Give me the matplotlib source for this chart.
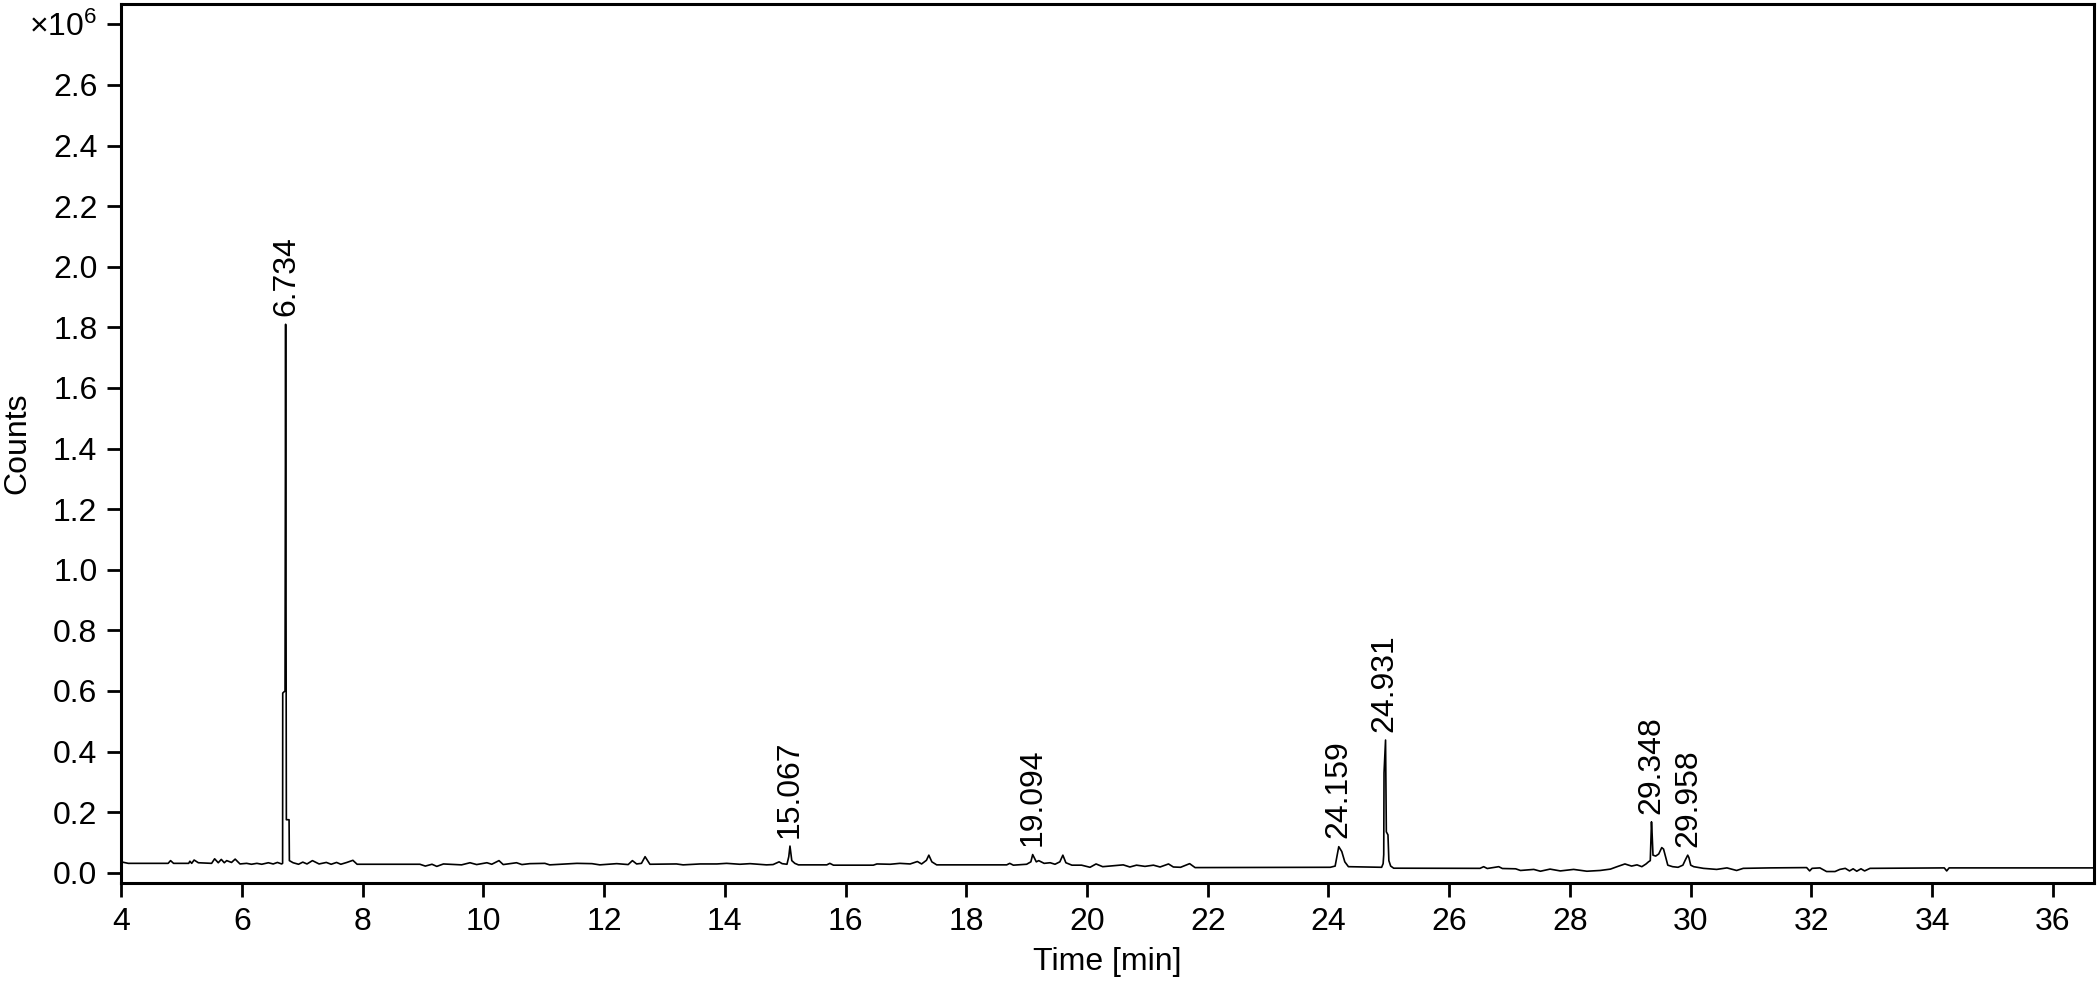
import matplotlib
matplotlib.use("Agg")
import matplotlib.pyplot as plt
import numpy as np

plt.rcParams['font.family'] = ['Liberation Sans', 'DejaVu Sans']
plt.rcParams['mathtext.fontset'] = 'custom'
plt.rcParams['mathtext.rm'] = 'Liberation Sans'

# retention time [min] and counts [x10^6]
rt = [4.00, 4.12, 4.78, 4.82, 4.87, 5.12, 5.14, 5.17, 5.21, 5.28, 5.50, 5.55, 5.61, 5.66,
      5.71, 5.75, 5.83, 5.89, 5.97, 6.08, 6.16, 6.25, 6.33, 6.44, 6.52, 6.59, 6.66,
      6.676, 6.678, 6.716, 6.726, 6.738, 6.783, 6.788,
      6.85, 6.94, 7.01, 7.08, 7.17, 7.28, 7.40, 7.48, 7.57, 7.64, 7.74, 7.84, 7.91,
      8.95, 9.04, 9.15, 9.23, 9.34,
      9.45, 9.64, 9.78, 9.89, 10.06, 10.14, 10.26, 10.33, 10.55, 10.64, 10.77, 11.02,
      11.10, 11.55, 11.80, 11.93, 12.21, 12.40, 12.47, 12.54, 12.62, 12.68, 12.76,
      13.20, 13.31, 13.59, 13.87, 14.03, 14.25, 14.42, 14.69, 14.80, 14.90, 14.95,
      15.03, 15.06, 15.08, 15.11, 15.16, 15.22, 15.69, 15.74, 15.80, 16.46, 16.52,
      16.74, 16.90, 17.07, 17.19, 17.26, 17.34, 17.38, 17.43, 17.51, 18.67, 18.72,
      18.78, 19.00, 19.07, 19.10, 19.16, 19.20, 19.23, 19.29, 19.39, 19.47, 19.55,
      19.60, 19.65, 19.75, 19.91, 20.05, 20.15, 20.26,
      20.38, 20.60, 20.71, 20.82, 20.96, 21.10, 21.21, 21.35, 21.43, 21.55, 21.70,
      21.79, 24.03, 24.11, 24.15, 24.17, 24.22, 24.27, 24.33, 24.80, 24.88,
      24.905, 24.915, 24.920, 24.945, 24.958, 24.985, 25.00, 25.03, 25.08,
      26.51, 26.57, 26.63, 26.82, 26.88, 27.10, 27.18, 27.40, 27.51, 27.67, 27.84,
      28.06, 28.28, 28.50, 28.67, 28.78, 28.91, 29.02, 29.11, 29.19, 29.26, 29.30,
      29.33, 29.335, 29.35, 29.36, 29.375, 29.42, 29.47, 29.52, 29.55, 29.58, 29.62,
      29.70, 29.79, 29.87, 29.91, 29.95, 29.97, 30.00, 30.05, 30.21, 30.43, 30.60,
      30.76, 30.87, 31.31,
      31.92, 31.97, 32.01, 32.14, 32.25, 32.39, 32.47, 32.56, 32.63, 32.69, 32.75,
      32.82, 32.88, 32.97, 34.20, 34.24, 34.28, 36.67]
counts = [0.036, 0.031, 0.031, 0.040, 0.031, 0.031, 0.038, 0.031, 0.042, 0.033, 0.031, 0.046, 0.033, 0.044,
          0.033, 0.040, 0.034, 0.045, 0.029, 0.031, 0.028, 0.031, 0.028, 0.033, 0.029, 0.034, 0.029,
          0.031, 0.593, 0.600, 1.810, 0.175, 0.175, 0.040,
          0.033, 0.028, 0.035, 0.029, 0.040, 0.029, 0.034, 0.028, 0.034, 0.028, 0.034, 0.041, 0.028,
          0.028, 0.022, 0.028, 0.021, 0.029,
          0.028, 0.026, 0.033, 0.027, 0.033, 0.028, 0.040, 0.027, 0.033, 0.027, 0.030, 0.031,
          0.026, 0.031, 0.030, 0.026, 0.030, 0.027, 0.040, 0.029, 0.031, 0.053, 0.028,
          0.029, 0.026, 0.029, 0.029, 0.031, 0.028, 0.030, 0.026, 0.027, 0.036, 0.030,
          0.028, 0.053, 0.088, 0.040, 0.031, 0.026, 0.026, 0.031, 0.025, 0.025, 0.029,
          0.028, 0.031, 0.029, 0.037, 0.029, 0.041, 0.058, 0.036, 0.026, 0.026, 0.031,
          0.025, 0.028, 0.036, 0.060, 0.036, 0.040, 0.037, 0.031, 0.033, 0.028, 0.036,
          0.058, 0.033, 0.025, 0.025, 0.018, 0.029, 0.020,
          0.022, 0.026, 0.019, 0.025, 0.021, 0.025, 0.019, 0.029, 0.019, 0.018, 0.030,
          0.017, 0.018, 0.022, 0.064, 0.086, 0.070, 0.036, 0.020, 0.018, 0.018,
          0.030, 0.060, 0.330, 0.438, 0.135, 0.125, 0.040, 0.022, 0.015,
          0.0145, 0.020, 0.014, 0.020, 0.014, 0.013, 0.0075, 0.011, 0.005, 0.012, 0.006,
          0.011, 0.005, 0.0075, 0.012, 0.020, 0.029, 0.022, 0.026, 0.020, 0.029, 0.036,
          0.040, 0.070, 0.168, 0.130, 0.058, 0.055, 0.062, 0.083, 0.078, 0.055, 0.025,
          0.020, 0.018, 0.025, 0.042, 0.058, 0.050, 0.025, 0.020, 0.0145, 0.011, 0.016,
          0.0075, 0.0145, 0.016,
          0.017, 0.006, 0.0145, 0.016, 0.004, 0.004, 0.011, 0.0145, 0.006, 0.013, 0.005,
          0.013, 0.006, 0.0145, 0.016, 0.006, 0.016, 0.016]

peak_labels = ["6.734", "15.067", "19.094", "24.159", "24.931", "29.348", "29.958"]

y_ticks = [0.0, 0.2, 0.4, 0.6, 0.8, 1.0, 1.2, 1.4, 1.6, 1.8, 2.0, 2.2, 2.4, 2.6, 2.8]
x_ticks = list(range(4, 37, 2))

rt = np.array(rt)
counts = np.array(counts)

fig = plt.figure(figsize=(20.98, 9.85), dpi=100)
ax = fig.add_axes([0.0577, 0.1032, 0.9404, 0.8927])

ax.plot(rt, counts, color='black', lw=1.2)

# peak labels sit just above the local maximum
for lab in peak_labels:
    t = float(lab)
    sel = (rt > t - 0.04) & (rt < t + 0.04)
    h = counts[sel].max()
    ax.annotate(lab, xy=(t, h), xytext=(0, 6), textcoords='offset points',
                rotation=90, ha='center', va='bottom', fontsize=23)

ax.set_xlim(4, 36.68)
ax.set_ylim(-0.035, 2.867)
ax.set_xticks(x_ticks)
ax.set_yticks(y_ticks)
ylabs = [f"{v:.1f}" for v in y_ticks]
ylabs[-1] = r'$\mathregular{\times10^6}$'
ax.set_yticklabels(ylabs)

ax.tick_params(axis='both', direction='out', length=10, width=2.0, labelsize=23, pad=7)
for sp in ax.spines.values():
    sp.set_linewidth(2.2)

ax.set_xlabel('Time [min]', fontsize=23)
ax.set_ylabel('Counts', fontsize=23)
ax.xaxis.set_label_coords(0.5, -0.072)
ax.yaxis.set_label_coords(-0.045, 0.5)

fig.savefig('out.png', dpi=100)
